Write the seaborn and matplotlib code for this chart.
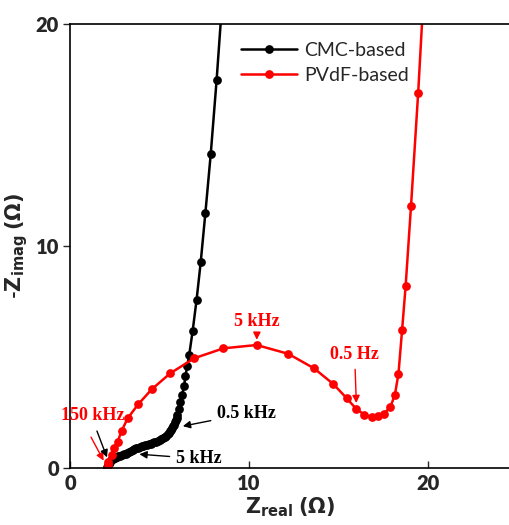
import matplotlib

matplotlib.use("Agg")
import matplotlib.pyplot as plt  # noqa: E402
import seaborn as sns  # noqa: E402
import pandas as pd  # noqa: E402

# Nyquist data
cmc_zreal = [2.05, 2.1, 2.15, 2.22, 2.3, 2.4, 2.5, 2.6, 2.7, 2.8, 2.9, 3.0, 3.1, 3.2, 3.3,
             3.4, 3.5, 3.6, 3.7, 3.8, 3.9, 4.0, 4.1, 4.2, 4.3, 4.4, 4.5, 4.6, 4.7, 4.8,
             4.9, 5.0, 5.1, 5.2, 5.3, 5.38, 5.45, 5.52, 5.6, 5.66, 5.72, 5.77, 5.82, 5.87,
             5.92, 5.96, 6.0, 6.08, 6.17, 6.27, 6.37, 6.45, 6.55, 6.66, 6.85, 7.07, 7.3,
             7.56, 7.86, 8.19, 8.5]
cmc_zimag = [0.05, 0.12, 0.2, 0.28, 0.35, 0.4, 0.45, 0.49, 0.52, 0.55, 0.58, 0.61, 0.65, 0.68, 0.72,
             0.76, 0.8, 0.84, 0.88, 0.92, 0.95, 0.98, 1.0, 1.03, 1.05, 1.08, 1.1, 1.12, 1.15, 1.18,
             1.22, 1.26, 1.3, 1.35, 1.4, 1.46, 1.52, 1.58, 1.65, 1.72, 1.8, 1.87, 1.95, 2.05,
             2.15, 2.27, 2.4, 2.65, 2.95, 3.3, 3.7, 4.15, 4.6, 5.1, 6.17, 7.57, 9.26,
             11.47, 14.13, 17.48, 21.0]

pvdf_zreal = [2.1, 2.14, 2.33, 2.46, 2.66, 2.89, 3.22, 3.82, 4.56, 5.59, 6.93, 8.57, 10.43,
              12.2, 13.63, 14.71, 15.46, 16.0, 16.45, 16.85, 17.2, 17.55, 17.9, 18.15,
              18.35, 18.55, 18.75, 19.05, 19.45, 19.8]
pvdf_zimag = [0.12, 0.28, 0.59, 0.89, 1.19, 1.68, 2.24, 2.88, 3.54, 4.26, 4.94, 5.39, 5.54,
              5.14, 4.49, 3.78, 3.14, 2.65, 2.4, 2.3, 2.32, 2.45, 2.75, 3.3,
              4.25, 6.2, 8.2, 11.8, 16.9, 22.0]

df = pd.concat([
    pd.DataFrame({"zreal": cmc_zreal, "zimag": cmc_zimag, "sample": "CMC-based"}),
    pd.DataFrame({"zreal": pvdf_zreal, "zimag": pvdf_zimag, "sample": "PVdF-based"}),
])

sns.set_style("ticks")
plt.rcParams["font.family"] = ["Lato", "DejaVu Sans"]

fig = plt.figure(figsize=(5.1, 5.25), dpi=100)
ax = fig.add_axes([0.1373, 0.1086, 0.8627, 0.8457])

sns.lineplot(data=df, x="zreal", y="zimag", hue="sample", sort=False, estimator=None,
             palette={"CMC-based": "black", "PVdF-based": "#ff0000"},
             marker="o", markersize=6.3, markeredgewidth=0, linewidth=1.8, ax=ax)

ax.set_xlim(0, 24.58)
ax.set_ylim(0, 20)
ax.set_xticks([0, 10, 20])
ax.set_yticks([0, 10, 20])
ax.tick_params(axis="x", direction="in", length=5, width=1, pad=4, labelsize=14.5)
ax.tick_params(axis="y", direction="out", length=5, width=1, pad=3, labelsize=14.5)
for lab in ax.get_xticklabels() + ax.get_yticklabels():
    lab.set_fontweight("heavy")
for side in ["left", "bottom", "top"]:
    ax.spines[side].set_linewidth(1.2)
    ax.spines[side].set_color("black")
ax.spines["right"].set_visible(False)

ax.set_xlabel(r"$\mathbf{Z}_{\mathbf{real}}$ $\mathbf{(\Omega)}$", fontsize=15, fontweight="bold", labelpad=2)
ax.set_ylabel(r"-$\mathbf{Z}_{\mathbf{imag}}$ $\mathbf{(\Omega)}$", fontsize=15, fontweight="bold", labelpad=4)

leg = ax.legend(loc="upper left", bbox_to_anchor=(0.37, 0.978), frameon=False, fontsize=14,
                handlelength=2.9, handletextpad=0.35, labelspacing=0.45, borderaxespad=0)

serif = ["Liberation Serif", "DejaVu Serif"]
red_kw = dict(arrowstyle="-|>", color="#ff0000", lw=1, mutation_scale=11)
blk_kw = dict(arrowstyle="-|>", color="black", lw=1, mutation_scale=11)

ax.annotate("5 kHz", xy=(10.43, 5.65), xytext=(10.45, 6.6), color="#ff0000", fontsize=13,
            fontweight="bold", family=serif, ha="center", va="center", arrowprops=red_kw)
ax.annotate("0.5 Hz", xy=(16.0, 2.8), xytext=(15.9, 5.1), color="#ff0000", fontsize=13,
            fontweight="bold", family=serif, ha="center", va="center", arrowprops=red_kw)
ax.annotate("", xy=(1.95, 0.22), xytext=(1.1, 1.5), arrowprops=red_kw)
ax.text(1.25, 2.36, "150 kHz", color="#ff0000", fontsize=13, fontweight="bold", family=serif,
        ha="center", va="center")
ax.annotate("", xy=(2.12, 0.36), xytext=(1.45, 1.78), arrowprops=blk_kw)
ax.annotate("0.5 kHz", xy=(6.15, 1.86), xytext=(8.2, 2.45), color="black", fontsize=13,
            fontweight="bold", family=serif, ha="left", va="center", arrowprops=blk_kw)
ax.annotate("5 kHz", xy=(3.72, 0.63), xytext=(5.9, 0.42), color="black", fontsize=13,
            fontweight="bold", family=serif, ha="left", va="center", arrowprops=blk_kw)

fig.savefig("out.png", dpi=100)
plt.close(fig)
